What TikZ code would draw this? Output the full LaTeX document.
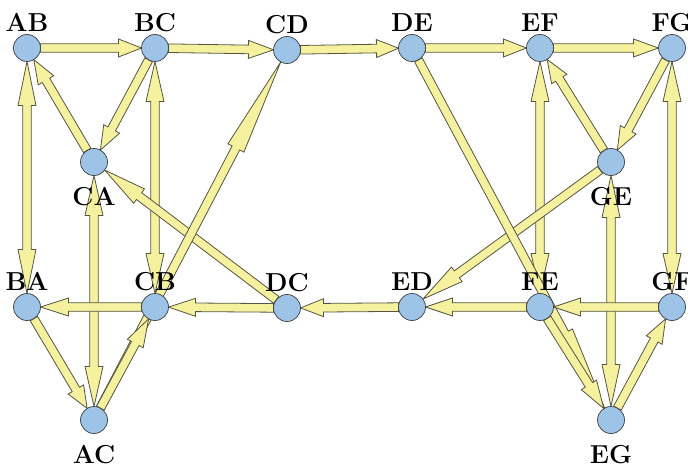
\documentclass[tikz,border=0pt]{standalone}
\usetikzlibrary{calc,backgrounds}
\definecolor{knotenblau}{RGB}{157,195,230}
\definecolor{pfeilgelb}{RGB}{246,241,158}
\definecolor{randgrau}{RGB}{85,85,65}
% Knotenradius, halbe Schaft- und Spitzenbreite
\newcommand{\rk}{13.5pt}
\newcommand{\sw}{4.3pt}
\newcommand{\hw}{9pt}
% einfacher Pfeil: von, nach, Spitzenlaenge
\newcommand{\pfeil}[3]{%
  \filldraw[pfeil] ($(#1)!\rk!(#2)!\sw!90:(#2)$)
    -- ($(#2)!\rk!(#1)!#3!(#1)!\sw!-90:(#1)$)
    -- ($(#2)!\rk!(#1)!#3!(#1)!\hw!-90:(#1)$)
    -- ($(#2)!\rk!(#1)$)
    -- ($(#2)!\rk!(#1)!#3!(#1)!\hw!90:(#1)$)
    -- ($(#2)!\rk!(#1)!#3!(#1)!\sw!90:(#1)$)
    -- ($(#1)!\rk!(#2)!\sw!-90:(#2)$) -- cycle;}
% Doppelpfeil
\newcommand{\dpfeil}[3]{%
  \filldraw[pfeil] ($(#1)!\rk!(#2)$)
    -- ($(#1)!\rk!(#2)!#3!(#2)!\hw!90:(#2)$)
    -- ($(#1)!\rk!(#2)!#3!(#2)!\sw!90:(#2)$)
    -- ($(#2)!\rk!(#1)!#3!(#1)!\sw!-90:(#1)$)
    -- ($(#2)!\rk!(#1)!#3!(#1)!\hw!-90:(#1)$)
    -- ($(#2)!\rk!(#1)$)
    -- ($(#2)!\rk!(#1)!#3!(#1)!\hw!90:(#1)$)
    -- ($(#2)!\rk!(#1)!#3!(#1)!\sw!90:(#1)$)
    -- ($(#1)!\rk!(#2)!#3!(#2)!\sw!-90:(#2)$)
    -- ($(#1)!\rk!(#2)!#3!(#2)!\hw!-90:(#2)$)
    -- cycle;}
\tikzset{
  knoten/.style={circle, draw=black!75, fill=knotenblau, minimum size=27pt,
    inner sep=0pt, line width=0.7pt},
  pfeil/.style={fill=pfeilgelb, draw=randgrau, line width=0.8pt},
  every label/.style={font=\fontsize{26}{26}\selectfont\bfseries, inner sep=1pt},
  unten/.style={label={[label distance=10pt]below:#1}},
  oben/.style={label={[label distance=1pt]above:#1}}
}
\begin{document}
\begin{tikzpicture}[x=1pt, y=-1pt]
    \useasboundingbox (0,0) rectangle (688,468);
    % Knoten oben
    \node[knoten, oben=AB] (AB) at (27,48) {};
    \node[knoten, oben=BC] (BC) at (155,48) {};
    \node[knoten, oben=CD] (CD) at (287,50) {};
    \node[knoten, oben=DE] (DE) at (412,48) {};
    \node[knoten, oben=EF] (EF) at (540,48) {};
    \node[knoten, oben=FG] (FG) at (672,48) {};
    % Mitte
    \node[knoten, unten=CA] (CA) at (94,162) {};
    \node[knoten, unten=GE] (GE) at (611,162) {};
    % Knoten unten
    \node[knoten, oben=BA] (BA) at (27,307) {};
    \node[knoten, oben=CB] (CB) at (155,307) {};
    \node[knoten, oben=DC] (DC) at (287,308) {};
    \node[knoten, oben=ED] (ED) at (412,307) {};
    \node[knoten, oben=FE] (FE) at (540,307) {};
    \node[knoten, oben=GF] (GF) at (672,307) {};
    \node[knoten, unten=AC] (AC) at (94,420) {};
    \node[knoten, unten=EG] (EG) at (611,420) {};
    % Kanten
    \begin{pgfonlayer}{background}
    \pfeil{AB}{BC}{23pt}
    \pfeil{BC}{CD}{25pt}
    \pfeil{CD}{DE}{22pt}
    \pfeil{DE}{EF}{23pt}
    \pfeil{EF}{FG}{25pt}
    \dpfeil{AB}{BA}{44pt}
    \dpfeil{BC}{CB}{40pt}
    \dpfeil{CA}{AC}{40pt}
    \dpfeil{EF}{FE}{40pt}
    \dpfeil{GE}{EG}{42pt}
    \dpfeil{FG}{GF}{40pt}
    \pfeil{CA}{AB}{24pt}
    \pfeil{BC}{CA}{24pt}
    \pfeil{DC}{CA}{43pt}
    \pfeil{CB}{BA}{28pt}
    \pfeil{BA}{AC}{22pt}
    \pfeil{AC}{CD}{97pt}
    \pfeil{AC}{CB}{28pt}
    \pfeil{DC}{CB}{27pt}
    \pfeil{ED}{DC}{23pt}
    \pfeil{FE}{ED}{27pt}
    \pfeil{GE}{ED}{42pt}
    \pfeil{DE}{EG}{85pt}
    \pfeil{FE}{EG}{28pt}
    \pfeil{GE}{EF}{23pt}
    \pfeil{FG}{GE}{23pt}
    \pfeil{GF}{FE}{27pt}
    \pfeil{EG}{GF}{24pt}
    \end{pgfonlayer}
\end{tikzpicture}
\end{document}
